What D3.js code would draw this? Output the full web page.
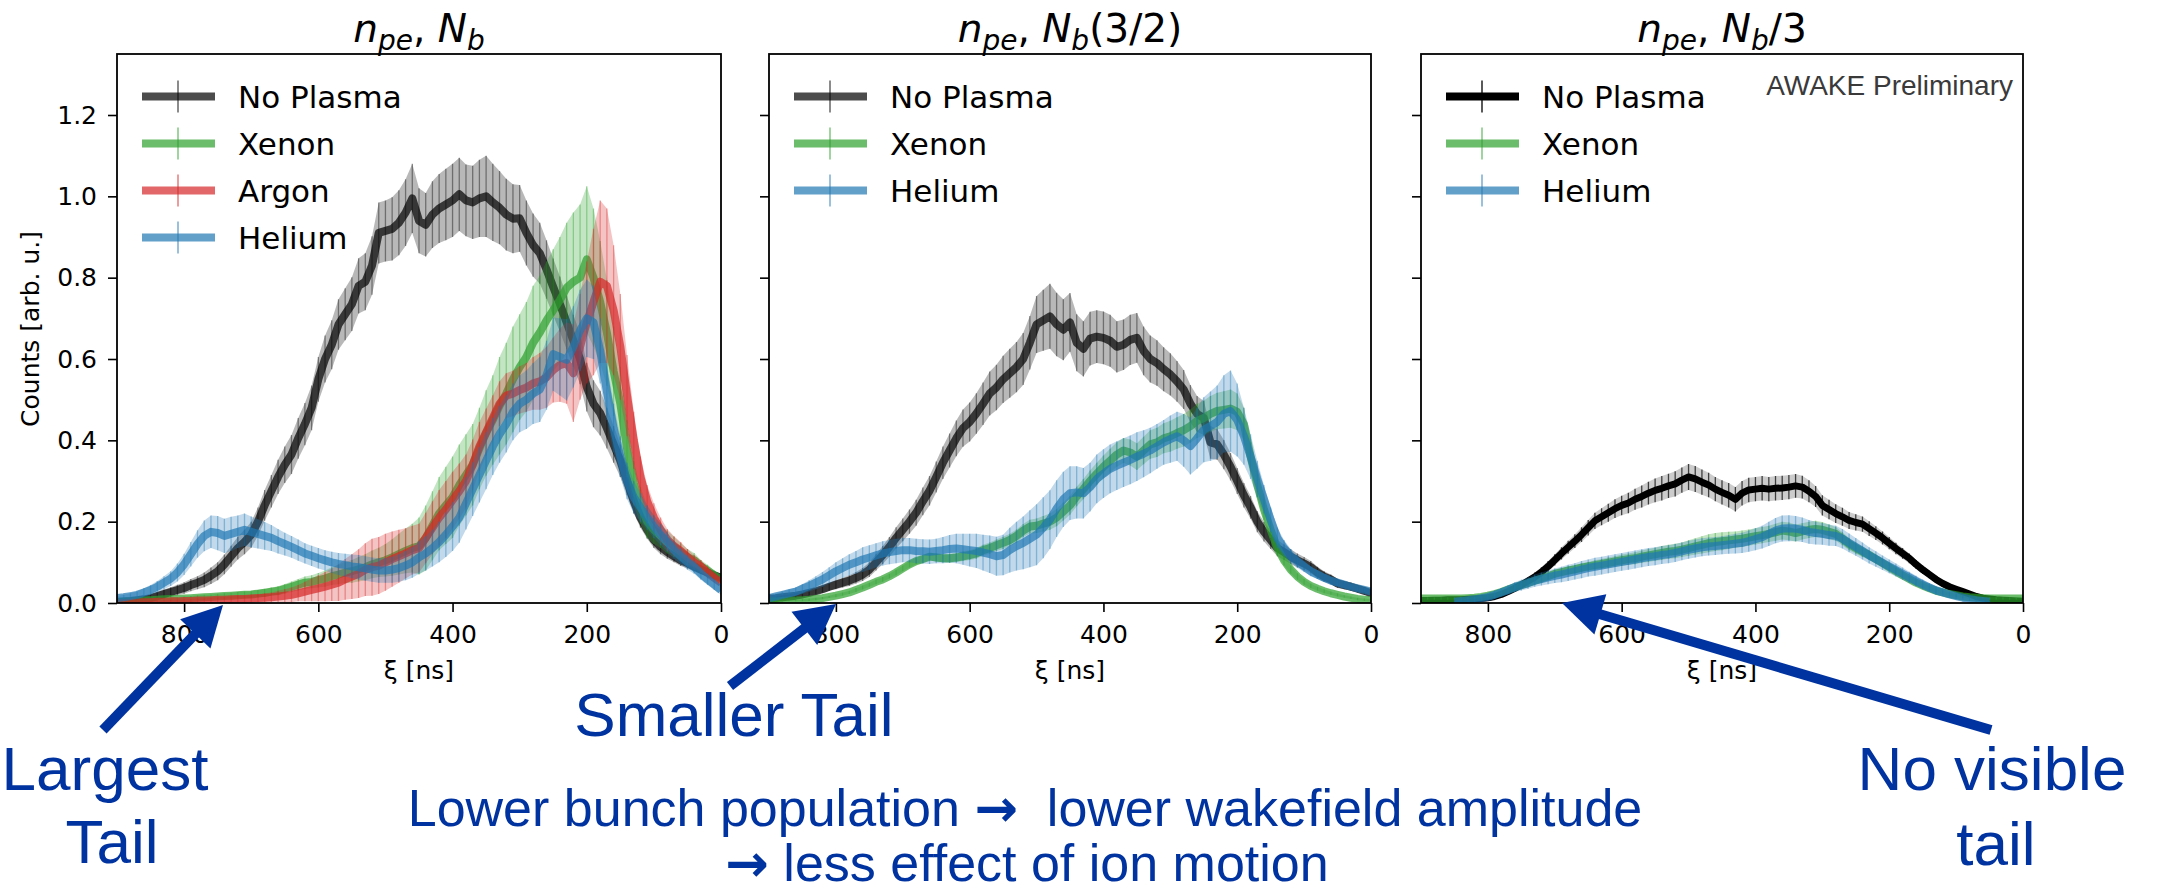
<!DOCTYPE html>
<html>
<head>
<meta charset="utf-8">
<script src="https://cdn.jsdelivr.net/npm/d3@7"></script>
<style>
body { margin: 0; background: #fff; }
</style>
</head>
<body>
<svg id="chart" width="2161" height="893" font-family="DejaVu Sans"></svg>
<script>
// xi grid [ns], 900 -> 0
var xi = [900,890,880,870,860,850,840,830,820,810,800,790,780,770,760,750,740,730,720,710,
  700,690,680,670,660,650,640,630,620,610,600,590,580,570,560,550,540,530,520,510,
  500,490,480,470,460,450,440,430,420,410,400,390,380,370,360,350,340,330,320,310,
  300,290,280,270,260,250,240,230,220,210,200,190,180,170,160,150,140,130,120,110,
  100,90,80,70,60,50,40,30,20,10,0];

var xTicks = [800, 600, 400, 200, 0];
var yTicks = [0, 0.2, 0.4, 0.6, 0.8, 1.0, 1.2];

// panel 1 : n_pe, N_b
var p1NoPlasma = [.003,.004,.005,.007,.009,.012,.017,.022,.027,.032,
  .037,.044,.05,.057,.067,.078,.095,.115,.135,.15,
  .168,.2,.24,.275,.31,.34,.365,.405,.44,.48,
  .55,.6,.635,.685,.71,.735,.78,.79,.83,.91,
  .915,.92,.935,.96,.995,.94,.93,.955,.97,.98,
  .99,1.005,.99,.985,.995,1.0,.985,.972,.955,.945,
  .946,.91,.88,.86,.82,.777,.735,.69,.645,.6,
  .531,.49,.467,.43,.39,.35,.30,.25,.21,.18,
  .155,.138,.125,.115,.105,.098,.09,.082,.075,.068,
  .062];
var p1NoPlasmaErr = [.004,.005,.006,.007,.008,.009,.01,.011,.012,.013,
  .014,.015,.016,.018,.02,.022,.024,.026,.028,.03,
  .032,.035,.038,.04,.042,.045,.048,.05,.052,.055,
  .055,.058,.06,.062,.064,.066,.068,.07,.072,.075,
  .075,.078,.08,.082,.085,.08,.078,.082,.085,.088,
  .09,.09,.088,.09,.095,.1,.095,.09,.088,.085,
  .082,.08,.078,.075,.072,.07,.068,.066,.064,.062,
  .06,.058,.055,.05,.045,.04,.035,.03,.025,.022,
  .02,.018,.016,.015,.014,.013,.012,.011,.01,.01,
  .01];
var p1Xenon = [.002,.003,.004,.005,.006,.007,.008,.009,.01,.01,
  .011,.012,.013,.014,.015,.016,.017,.018,.019,.02,
  .021,.023,.025,.028,.03,.035,.04,.045,.05,.052,
  .056,.06,.066,.07,.075,.078,.083,.088,.095,.1,
  .105,.112,.12,.128,.135,.14,.16,.19,.22,.24,
  .26,.29,.315,.34,.38,.418,.45,.485,.515,.55,
  .58,.605,.64,.665,.695,.72,.745,.775,.79,.80,
  .845,.80,.74,.664,.57,.49,.38,.295,.24,.2,
  .18,.165,.15,.138,.125,.113,.105,.09,.08,.068,
  .057];
var p1XenonErr = [.003,.003,.003,.003,.004,.004,.004,.004,.005,.005,
  .005,.005,.006,.006,.006,.007,.007,.007,.008,.008,
  .008,.009,.01,.01,.011,.012,.013,.014,.015,.016,
  .018,.02,.022,.024,.026,.028,.03,.032,.034,.036,
  .04,.045,.05,.055,.06,.07,.08,.085,.09,.095,
  .1,.1,.1,.1,.1,.105,.11,.12,.125,.13,
  .13,.135,.14,.14,.145,.15,.155,.16,.17,.18,
  .18,.17,.15,.13,.11,.09,.07,.055,.045,.04,
  .035,.03,.028,.025,.022,.02,.018,.016,.014,.012,
  .01];
var p1Argon = [0,0,.001,.001,.002,.002,.003,.003,.004,.004,
  .005,.005,.006,.006,.007,.008,.008,.009,.01,.01,
  .011,.012,.013,.014,.016,.018,.02,.024,.028,.032,
  .036,.04,.045,.05,.058,.065,.072,.082,.088,.092,
  .1,.108,.115,.122,.13,.135,.16,.185,.21,.23,
  .253,.275,.3,.34,.385,.42,.455,.49,.51,.515,
  .524,.53,.54,.545,.555,.573,.585,.59,.565,.63,
  .69,.74,.79,.78,.72,.63,.51,.4,.31,.25,
  .21,.18,.155,.14,.128,.113,.1,.09,.075,.062,
  .05];
var p1ArgonErr = [.002,.002,.002,.002,.003,.003,.003,.003,.004,.004,
  .004,.005,.005,.005,.006,.006,.007,.007,.008,.008,
  .009,.01,.011,.012,.014,.016,.018,.02,.024,.028,
  .032,.036,.04,.045,.05,.055,.06,.065,.07,.07,
  .07,.068,.065,.062,.06,.06,.062,.065,.068,.07,
  .07,.068,.065,.062,.06,.058,.056,.055,.055,.056,
  .058,.06,.065,.07,.075,.08,.09,.1,.12,.13,
  .15,.18,.2,.19,.16,.13,.1,.07,.05,.04,
  .035,.03,.027,.024,.022,.02,.018,.016,.014,.012,
  .01];
var p1Helium = [.012,.014,.017,.02,.026,.032,.04,.05,.06,.075,
  .095,.12,.145,.165,.175,.172,.165,.17,.175,.18,
  .175,.17,.165,.16,.152,.145,.138,.13,.122,.116,
  .11,.105,.1,.096,.093,.09,.088,.085,.082,.08,
  .08,.082,.086,.092,.1,.112,.122,.135,.15,.168,
  .188,.21,.245,.28,.315,.35,.385,.415,.44,.47,
  .49,.5,.515,.525,.56,.612,.605,.598,.63,.67,
  .70,.69,.62,.52,.43,.36,.30,.26,.235,.21,
  .188,.168,.15,.13,.115,.1,.088,.072,.058,.045,
  .032];
var p1HeliumErr = [.005,.006,.007,.008,.01,.012,.014,.016,.018,.022,
  .026,.03,.034,.038,.04,.042,.042,.042,.04,.04,
  .038,.036,.034,.032,.03,.028,.027,.026,.025,.025,
  .025,.025,.026,.027,.028,.029,.03,.03,.03,.03,
  .03,.032,.034,.036,.038,.04,.042,.045,.05,.055,
  .06,.062,.064,.066,.068,.07,.07,.07,.07,.07,
  .07,.072,.075,.08,.085,.09,.095,.1,.1,.1,
  .095,.09,.08,.07,.06,.05,.045,.04,.035,.03,
  .028,.026,.024,.022,.02,.018,.016,.015,.014,.013,
  .012];

// panel 2 : n_pe, N_b(3/2)
var p2NoPlasma = [.011,.012,.014,.016,.018,.021,.025,.029,.034,.04,
  .045,.05,.055,.062,.07,.082,.1,.118,.138,.16,
  .18,.2,.222,.25,.276,.31,.345,.375,.405,.43,
  .445,.466,.49,.515,.53,.55,.565,.58,.6,.64,
  .685,.695,.705,.685,.672,.69,.64,.625,.65,.655,
  .652,.645,.63,.635,.647,.652,.62,.6,.59,.575,
  .562,.545,.525,.49,.465,.455,.395,.39,.365,.335,
  .3,.265,.235,.2,.175,.155,.135,.125,.114,.105,
  .097,.088,.075,.065,.058,.048,.044,.04,.035,.03,
  .024];
var p2NoPlasmaErr = [.004,.004,.005,.005,.006,.006,.007,.008,.009,.01,
  .011,.012,.013,.014,.016,.018,.02,.022,.024,.026,
  .028,.03,.032,.034,.036,.038,.04,.042,.044,.046,
  .048,.05,.052,.054,.056,.058,.06,.062,.064,.066,
  .07,.075,.08,.078,.075,.072,.07,.068,.066,.065,
  .065,.064,.063,.062,.062,.061,.06,.058,.056,.054,
  .052,.05,.048,.046,.044,.042,.04,.038,.036,.034,
  .032,.03,.028,.026,.024,.022,.02,.019,.018,.017,
  .016,.015,.014,.013,.012,.011,.01,.01,.009,.009,
  .008];
var p2Xenon = [.004,.004,.005,.006,.006,.007,.008,.01,.012,.015,
  .018,.022,.026,.032,.038,.045,.052,.058,.066,.075,
  .085,.095,.103,.108,.114,.112,.11,.11,.112,.115,
  .118,.122,.13,.135,.142,.148,.155,.165,.178,.188,
  .19,.195,.2,.21,.225,.24,.262,.28,.3,.318,
  .335,.35,.365,.375,.37,.36,.375,.39,.395,.405,
  .41,.418,.425,.435,.448,.455,.465,.472,.475,.478,
  .47,.44,.36,.29,.23,.18,.135,.105,.082,.065,
  .052,.042,.035,.029,.024,.02,.016,.013,.01,.008,
  .007];
var p2XenonErr = [.002,.002,.002,.002,.002,.003,.003,.003,.003,.003,
  .004,.004,.004,.005,.005,.005,.006,.006,.006,.007,
  .007,.008,.008,.009,.009,.01,.01,.011,.011,.012,
  .012,.013,.013,.014,.014,.015,.015,.016,.016,.017,
  .018,.019,.02,.021,.022,.023,.024,.025,.026,.027,
  .028,.029,.03,.031,.032,.033,.034,.035,.036,.037,
  .038,.039,.04,.041,.042,.043,.044,.045,.046,.047,
  .045,.04,.035,.03,.025,.02,.016,.013,.01,.008,
  .007,.006,.005,.005,.004,.004,.003,.003,.003,.003,
  .003];
var p2Helium = [.012,.016,.02,.024,.028,.035,.042,.05,.058,.068,
  .078,.086,.094,.1,.107,.112,.117,.122,.125,.128,
  .13,.13,.128,.127,.126,.128,.13,.133,.134,.132,
  .13,.128,.124,.12,.115,.118,.13,.14,.148,.158,
  .168,.185,.205,.232,.255,.27,.272,.27,.285,.305,
  .318,.33,.338,.345,.352,.36,.367,.375,.385,.395,
  .403,.41,.4,.386,.405,.426,.435,.445,.465,.472,
  .45,.41,.36,.305,.255,.205,.16,.135,.115,.102,
  .09,.078,.07,.062,.055,.05,.045,.04,.036,.032,
  .028];
var p2HeliumErr = [.006,.007,.008,.009,.01,.012,.014,.016,.018,.02,
  .022,.024,.026,.028,.03,.03,.03,.03,.03,.03,
  .03,.03,.03,.03,.03,.03,.032,.034,.036,.038,
  .04,.042,.044,.046,.048,.05,.055,.06,.065,.07,
  .075,.075,.072,.07,.068,.066,.064,.062,.06,.06,
  .06,.06,.06,.06,.06,.06,.058,.056,.055,.055,
  .058,.06,.065,.07,.075,.08,.085,.09,.095,.1,
  .09,.07,.055,.045,.035,.03,.025,.02,.018,.016,
  .014,.012,.011,.01,.009,.008,.008,.007,.007,.006,
  .006];

// panel 3 : n_pe, N_b/3
var p3NoPlasma = [.006,.006,.007,.007,.008,.008,.008,.009,.01,.011,
  .013,.016,.021,.028,.036,.045,.054,.064,.076,.09,
  .106,.122,.137,.152,.168,.185,.202,.212,.222,.232,
  .24,.246,.255,.262,.27,.277,.282,.288,.293,.302,
  .31,.305,.297,.29,.28,.272,.265,.255,.27,.278,
  .28,.282,.28,.282,.283,.285,.288,.285,.275,.262,
  .24,.23,.22,.212,.203,.198,.194,.183,.172,.16,
  .147,.134,.122,.11,.095,.082,.07,.058,.048,.04,
  .034,.028,.022,.016,.012,.01,.008,.007,.006,.005,
  .004];
var p3NoPlasmaErr = [.002,.002,.002,.002,.002,.002,.002,.003,.003,.003,
  .004,.005,.006,.007,.008,.009,.01,.011,.012,.013,
  .014,.015,.016,.017,.018,.019,.02,.021,.022,.023,
  .024,.025,.026,.027,.028,.029,.03,.03,.031,.031,
  .032,.032,.031,.03,.03,.03,.03,.03,.03,.03,
  .03,.03,.03,.03,.03,.03,.029,.028,.027,.026,
  .025,.024,.023,.022,.021,.02,.019,.018,.017,.016,
  .015,.014,.013,.012,.011,.01,.009,.008,.007,.006,
  .005,.005,.004,.004,.003,.003,.003,.002,.002,.002,
  .002];
var p3Xenon = [.011,.011,.011,.011,.011,.011,.011,.012,.013,.015,
  .018,.022,.027,.033,.039,.044,.049,.055,.06,.066,
  .072,.076,.08,.083,.087,.09,.093,.096,.099,.102,
  .105,.108,.11,.114,.117,.12,.123,.126,.128,.131,
  .135,.139,.143,.147,.15,.152,.154,.156,.158,.161,
  .164,.167,.17,.174,.178,.176,.172,.176,.18,.182,
  .18,.175,.17,.158,.145,.135,.126,.118,.108,.098,
  .088,.078,.068,.059,.05,.043,.036,.03,.026,.022,
  .019,.016,.014,.013,.012,.011,.011,.011,.011,.011,
  .011];
var p3XenonErr = [.003,.003,.003,.003,.003,.003,.003,.003,.003,.003,
  .004,.004,.005,.005,.006,.006,.007,.007,.008,.008,
  .009,.009,.01,.01,.011,.011,.012,.012,.013,.013,
  .014,.014,.015,.015,.016,.016,.017,.017,.018,.018,
  .019,.02,.021,.022,.022,.022,.021,.02,.02,.02,
  .02,.02,.02,.021,.022,.022,.021,.02,.02,.02,
  .019,.018,.017,.016,.015,.014,.013,.012,.011,.01,
  .009,.008,.008,.007,.007,.006,.006,.005,.005,.004,
  .004,.004,.003,.003,.003,.003,.003,.003,.003,.003,
  .003];
var p3Helium = [null,null,null,null,null,.003,.005,.007,.009,.012,
  .015,.02,.026,.032,.039,.044,.049,.055,.059,.063,
  .067,.07,.074,.078,.082,.086,.089,.092,.095,.098,
  .101,.104,.107,.11,.113,.115,.118,.12,.123,.127,
  .131,.134,.137,.139,.14,.142,.144,.146,.148,.152,
  .157,.162,.17,.178,.183,.184,.183,.18,.175,.172,
  .17,.167,.165,.158,.148,.138,.128,.117,.108,.099,
  .09,.081,.072,.063,.054,.046,.038,.031,.026,.021,
  .017,.013,.01,.007,.005,.003,null,null,null,null,
  null];
var p3HeliumErr = [0,0,0,0,0,.003,.004,.005,.006,.007,
  .008,.009,.01,.011,.012,.013,.014,.015,.016,.017,
  .018,.019,.02,.02,.021,.021,.022,.022,.022,.022,
  .022,.022,.022,.022,.022,.022,.022,.022,.022,.022,
  .022,.022,.022,.022,.022,.022,.023,.024,.025,.026,
  .027,.028,.03,.031,.032,.032,.031,.03,.029,.028,
  .027,.026,.025,.024,.023,.022,.021,.02,.019,.018,
  .017,.016,.015,.014,.013,.012,.011,.01,.009,.008,
  .007,.006,.005,.004,.003,.002,0,0,0,0,
  0];

var cBlack = '#000000', cGreen = '#2ca02c', cRed = '#d62728', cBlue = '#1f77b4';

var panels = [
  { left: 117, right: 721, ylabels: true, extra: '',
    series: [
      { name: 'No Plasma', v: p1NoPlasma, e: p1NoPlasmaErr, color: cBlack, a: 0.7 },
      { name: 'Xenon', v: p1Xenon, e: p1XenonErr, color: cGreen, a: 0.7 },
      { name: 'Argon', v: p1Argon, e: p1ArgonErr, color: cRed, a: 0.7 },
      { name: 'Helium', v: p1Helium, e: p1HeliumErr, color: cBlue, a: 0.7 }
    ] },
  { left: 769, right: 1371, ylabels: false, extra: '(3/2)',
    series: [
      { name: 'No Plasma', v: p2NoPlasma, e: p2NoPlasmaErr, color: cBlack, a: 0.7 },
      { name: 'Xenon', v: p2Xenon, e: p2XenonErr, color: cGreen, a: 0.7 },
      { name: 'Helium', v: p2Helium, e: p2HeliumErr, color: cBlue, a: 0.7 }
    ] },
  { left: 1421, right: 2023, ylabels: false, extra: '/3',
    series: [
      { name: 'No Plasma', v: p3NoPlasma, e: p3NoPlasmaErr, color: cBlack, a: 1.0 },
      { name: 'Xenon', v: p3Xenon, e: p3XenonErr, color: cGreen, a: 0.7 },
      { name: 'Helium', v: p3Helium, e: p3HeliumErr, color: cBlue, a: 0.7 }
    ] }
];

var plotTop = 54, plotBottom = 603;
var svg = d3.select('#chart');
svg.append('rect').attr('width', 2161).attr('height', 893).attr('fill', '#fff');

var y = d3.scaleLinear().domain([0, 1.35]).range([plotBottom, plotTop]);

panels.forEach(function(p, pi) {
  var x = d3.scaleLinear().domain([900, 0]).range([p.left, p.right]);
  var g = svg.append('g');

  g.append('clipPath').attr('id', 'clip' + pi)
    .append('rect').attr('x', p.left).attr('y', plotTop)
    .attr('width', p.right - p.left).attr('height', plotBottom - plotTop);

  var plot = g.append('g').attr('clip-path', 'url(#clip' + pi + ')');

  p.series.forEach(function(s) {
    var pts = xi.map(function(d, i) { return { x: d, v: s.v[i], e: s.e[i] }; });
    var ok = function(d) { return d.v != null; };

    // error band
    plot.append('path')
      .datum(pts)
      .attr('d', d3.area().defined(ok)
        .x(function(d) { return x(d.x); })
        .y0(function(d) { return y(d.v - d.e); })
        .y1(function(d) { return y(d.v + d.e); }))
      .attr('fill', s.color)
      .attr('fill-opacity', s.a == 1 ? 0.2 : 0.28);

    // error bars
    var bars = '';
    pts.forEach(function(d) {
      if (!ok(d) || !d.e) return;
      bars += 'M' + x(d.x) + ',' + y(d.v - d.e) + 'V' + y(d.v + d.e);
    });
    plot.append('path').attr('d', bars)
      .attr('stroke', s.color).attr('stroke-width', 1.3)
      .attr('stroke-opacity', s.a == 1 ? 0.7 : 0.4).attr('fill', 'none');

    // mean curve
    plot.append('path')
      .datum(pts)
      .attr('d', d3.line().defined(ok)
        .x(function(d) { return x(d.x); })
        .y(function(d) { return y(d.v); }))
      .attr('fill', 'none')
      .attr('stroke', s.color)
      .attr('stroke-opacity', s.a)
      .attr('stroke-width', s.a == 1 ? 7 : 8)
      .attr('stroke-linejoin', 'round');
  });

  // axes
  var xAxis = g.append('g').attr('transform', 'translate(0,' + plotBottom + ')')
    .call(d3.axisBottom(x).tickValues(xTicks).tickSize(9).tickPadding(13)
      .tickFormat(d3.format('d')));
  var yAxis = g.append('g').attr('transform', 'translate(' + p.left + ',0)')
    .call(d3.axisLeft(y).tickValues(yTicks).tickSize(9).tickPadding(11)
      .tickFormat(p.ylabels ? d3.format('.1f') : function() { return ''; }));
  [xAxis, yAxis].forEach(function(ax) {
    ax.select('.domain').remove();
    ax.selectAll('line').attr('stroke', '#000').attr('stroke-width', 1.6);
    ax.selectAll('text').attr('font-size', 25).attr('fill', '#000')
      .attr('font-family', 'DejaVu Sans');
  });

  g.append('rect').attr('x', p.left).attr('y', plotTop)
    .attr('width', p.right - p.left).attr('height', plotBottom - plotTop)
    .attr('fill', 'none').attr('stroke', '#000').attr('stroke-width', 1.8);

  var cx = (p.left + p.right) / 2;

  // x label
  g.append('text').attr('x', cx).attr('y', 679).attr('text-anchor', 'middle')
    .attr('font-size', 25).text('\u03be [ns]');

  // title  n_pe, N_b...
  var t = g.append('text').attr('x', cx).attr('y', 42).attr('text-anchor', 'middle')
    .attr('font-size', 39);
  t.append('tspan').attr('font-style', 'italic').text('n');
  t.append('tspan').attr('font-style', 'italic').attr('font-size', 28).attr('dy', 8).text('pe');
  t.append('tspan').attr('dy', -8).text(', ');
  t.append('tspan').attr('font-style', 'italic').text('N');
  t.append('tspan').attr('font-style', 'italic').attr('font-size', 28).attr('dy', 8).text('b');
  t.append('tspan').attr('dy', -8).text(p.extra);

  // legend
  p.series.forEach(function(s, i) {
    var by = 108 + i * 47, ly = by - 11.5;
    g.append('line').attr('x1', p.left + 25).attr('x2', p.left + 98)
      .attr('y1', ly).attr('y2', ly)
      .attr('stroke', s.color).attr('stroke-opacity', s.a).attr('stroke-width', 8);
    g.append('line').attr('x1', p.left + 61).attr('x2', p.left + 61)
      .attr('y1', ly - 16).attr('y2', ly + 16)
      .attr('stroke', s.color).attr('stroke-opacity', s.a).attr('stroke-width', 1.3);
    g.append('text').attr('x', p.left + 121).attr('y', by)
      .attr('font-size', 31).attr('fill', '#000').text(s.name);
  });
});

// y label
svg.append('text')
  .attr('transform', 'translate(30,329) rotate(-90)')
  .attr('text-anchor', 'middle').attr('dy', '0.36em')
  .attr('font-size', 25).text('Counts [arb. u.]');

svg.append('text').attr('x', 2013).attr('y', 95).attr('text-anchor', 'end')
  .attr('font-family', 'Liberation Sans').attr('font-size', 28).attr('fill', '#3a3a3a')
  .text('AWAKE Preliminary');

// annotations
var blue = '#0033a0';
function arrow(x1, y1, x2, y2) {
  var dx = x2 - x1, dy = y2 - y1, len = Math.sqrt(dx * dx + dy * dy);
  var ux = dx / len, uy = dy / len, hl = 40, hw = 21;
  var bx = x2 - ux * hl, by = y2 - uy * hl;
  svg.append('line').attr('x1', x1).attr('y1', y1).attr('x2', bx + ux * 2).attr('y2', by + uy * 2)
    .attr('stroke', blue).attr('stroke-width', 10);
  svg.append('polygon')
    .attr('points', [[x2, y2], [bx - uy * hw, by + ux * hw], [bx + uy * hw, by - ux * hw]]
      .map(function(q) { return q.join(','); }).join(' '))
    .attr('fill', blue);
}
arrow(103, 730, 223, 605);
arrow(730, 686, 836, 604);
arrow(1991, 730, 1562, 603);

var notes = [
  { t: 'Largest', x: 105, y: 790, s: 62 },
  { t: 'Tail', x: 112, y: 863, s: 62 },
  { t: 'Smaller Tail', x: 734, y: 736, s: 62 },
  { t: 'No visible', x: 1992, y: 790, s: 62 },
  { t: 'tail', x: 1996, y: 865, s: 62 },
  { t: 'Lower bunch population \u2192  lower wakefield amplitude', x: 1025, y: 826, s: 52 },
  { t: '\u2192 less effect of ion motion', x: 1027, y: 881, s: 52 }
];
notes.forEach(function(n) {
  var txt = svg.append('text').attr('x', n.x).attr('y', n.y).attr('text-anchor', 'middle')
    .attr('font-family', 'Liberation Sans').attr('font-size', n.s)
    .attr('fill', blue).style('white-space', 'pre');
  // the arrow glyph is drawn heavier, like the slide's symbol font
  n.t.split('\u2192').forEach(function(part, i) {
    if (i > 0) txt.append('tspan').attr('font-family', 'DejaVu Sans')
      .attr('font-weight', 'bold').text('\u2192');
    txt.append('tspan').text(part);
  });
});
</script>
</body>
</html>
